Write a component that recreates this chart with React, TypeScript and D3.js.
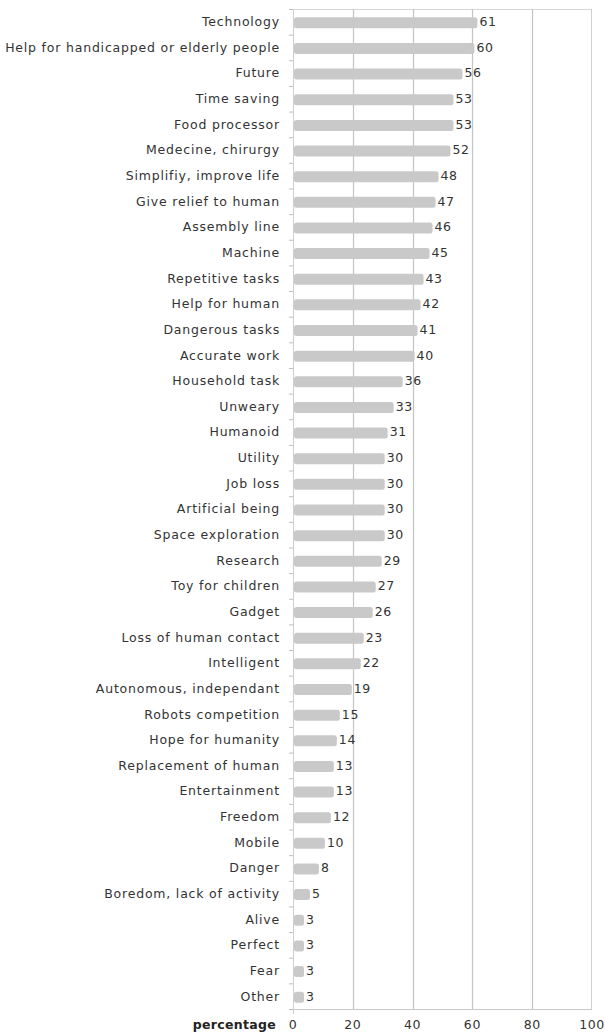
import React from "react";
import * as d3 from "d3";

const categories: string[] = [
  "Technology",
  "Help for handicapped or elderly people",
  "Future",
  "Time saving",
  "Food processor",
  "Medecine, chirurgy",
  "Simplifiy, improve life",
  "Give relief to human",
  "Assembly line",
  "Machine",
  "Repetitive tasks",
  "Help for human ",
  "Dangerous tasks",
  "Accurate work",
  "Household task",
  "Unweary",
  "Humanoid",
  "Utility",
  "Job loss",
  "Artificial being",
  "Space exploration",
  "Research",
  "Toy for children",
  "Gadget",
  "Loss of human contact",
  "Intelligent",
  "Autonomous, independant",
  "Robots competition",
  "Hope for humanity",
  "Replacement of human",
  "Entertainment",
  "Freedom",
  "Mobile",
  "Danger",
  "Boredom, lack of activity",
  "Alive",
  "Perfect",
  "Fear",
  "Other",
];

const values: number[] = [
  61, 60, 56, 53, 53, 52, 48, 47, 46, 45, 43, 42, 41, 40, 36, 33, 31, 30, 30, 30,
  30, 29, 27, 26, 23, 22, 19, 15, 14, 13, 13, 12, 10, 8, 5, 3, 3, 3, 3,
];

const xTicks: number[] = [0, 20, 40, 60, 80, 100];
const axisTitle = "percentage";

const FONT = "'DejaVu Sans', Verdana, sans-serif";

export default function App() {
  const W = 605;
  const H = 1034;
  const left = 293;
  const right = 592;
  const top = 9;
  const bottom = 1009;

  const x = d3.scaleLinear().domain([0, 100]).range([left, right]);
  const y = d3
    .scaleBand<string>()
    .domain(categories)
    .range([top, bottom])
    .paddingInner(0.58)
    .paddingOuter(0.29);
  const step = y.step();
  const barH = 11;

  return (
    <svg
      width={W}
      height={H}
      style={{ position: "absolute", left: 0, top: 0, background: "#fff" }}
      fontFamily={FONT}
    >
      {/* plot frame */}
      <line x1={left} x2={right} y1={top + 0.5} y2={top + 0.5} stroke="#d6d6d6" />
      <line x1={right - 0.5} x2={right - 0.5} y1={top} y2={bottom} stroke="#d0d0d0" />
      {/* grid */}
      {xTicks.slice(1, -1).map((t) => (
        <line
          key={"g" + t}
          x1={Math.round(x(t)) + 0.5}
          x2={Math.round(x(t)) + 0.5}
          y1={top}
          y2={bottom}
          stroke="#c4c4c4"
          strokeWidth={1.2}
        />
      ))}
      {/* left axis */}
      <line x1={left + 0.5} x2={left + 0.5} y1={top} y2={bottom + 5} stroke="#cfcfcf" />
      {d3.range(categories.length + 1).map((i) => (
        <line
          key={"t" + i}
          x1={left - 4}
          x2={left}
          y1={top + i * step + 0.5}
          y2={top + i * step + 0.5}
          stroke="#bdbdbd"
        />
      ))}
      {/* bottom axis */}
      <line x1={left} x2={right} y1={bottom + 0.5} y2={bottom + 0.5} stroke="#c8c8c8" />

      {/* bars */}
      {categories.map((c, i) => {
        const cy = top + (i + 0.5) * step;
        return (
          <g key={c + i}>
            <rect
              x={left + 1}
              y={cy - barH / 2 + 1}
              width={Math.max(0, x(values[i]) - left + 1)}
              height={barH}
              rx={2.5}
              fill="#c9c9c9"
            />
            <text
              x={x(values[i]) + 4}
              y={cy}
              dy="0.35em"
              fontSize={12.5}
              fill="#333"
              letterSpacing={0.6}
            >
              {values[i]}
            </text>
            <text
              x={left - 13}
              y={cy}
              dy="0.35em"
              textAnchor="end"
              fontSize={12.5}
              fill="#333"
              letterSpacing={0.8}
            >
              {c}
            </text>
          </g>
        );
      })}

      {/* x tick labels */}
      {xTicks.map((t) => (
        <text
          key={"xl" + t}
          x={x(t)}
          y={1025}
          dy="0.35em"
          textAnchor="middle"
          fontSize={12.5}
          fill="#333"
          letterSpacing={0.6}
        >
          {t}
        </text>
      ))}
      <text
        x={276}
        y={1025}
        dy="0.35em"
        textAnchor="end"
        fontSize={12.5}
        fontWeight="bold"
        fill="#222"
        letterSpacing={0.3}
      >
        {axisTitle}
      </text>
    </svg>
  );
}
